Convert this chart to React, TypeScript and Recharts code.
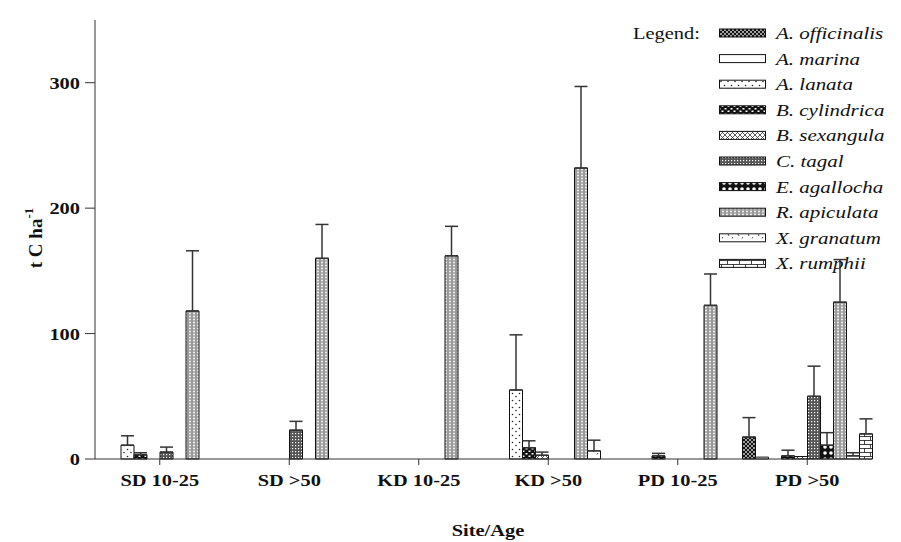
import { BarChart, Bar, XAxis, YAxis, ErrorBar, Label } from 'recharts'

const sites = ['SD 10-25', 'SD >50', 'KD 10-25', 'KD >50', 'PD 10-25', 'PD >50']
const speciesNames = [
  'A. officinalis', 'A. marina', 'A. lanata', 'B. cylindrica', 'B. sexangula',
  'C. tagal', 'E. agallocha', 'R. apiculata', 'X. granatum', 'X. rumphii',
]
const patternIds = ['offic', 'marina', 'lanata', 'cyl', 'sex', 'tagal', 'agal', 'api', 'gran', 'rum']

// carbon stock (t C/ha) per site, one list per species
const officinalis = [0, 0, 0, 0, 0, 17.5]
const marina = [0, 0, 0, 0, 0, 1.5]
const lanata = [11, 0, 0, 55, 0, 0]
const cylindrica = [3.5, 0, 0, 9, 2.5, 2.5]
const sexangula = [0, 0, 0, 3, 0, 2]
const tagal = [5.5, 23, 0, 0, 0, 50]
const agallocha = [0, 0, 0, 0, 0, 11]
const apiculata = [118, 160, 162, 232, 122.5, 125]
const granatum = [0, 0, 0, 6.5, 0, 2.5]
const rumphii = [0, 0, 0, 0, 0, 20]

// upper error (SE) per site
const officinalisErr = [null, null, null, null, null, 15.5]
const marinaErr = [null, null, null, null, null, null]
const lanataErr = [7.5, null, null, 44, null, null]
const cylindricaErr = [1.5, null, null, 5.5, 2, 4.5]
const sexangulaErr = [null, null, null, 2.5, null, null]
const tagalErr = [4, 7, null, null, null, 24]
const agallochaErr = [null, null, null, null, null, 10]
const apiculataErr = [48, 27, 23.5, 65, 25, 34]
const granatumErr = [null, null, null, 8.5, null, 2.5]
const rumphiiErr = [null, null, null, null, null, 12]

const yTicks = [0, 100, 200, 300]

const values = [officinalis, marina, lanata, cylindrica, sexangula, tagal, agallocha, apiculata, granatum, rumphii]
const errors = [officinalisErr, marinaErr, lanataErr, cylindricaErr, sexangulaErr, tagalErr, agallochaErr, apiculataErr, granatumErr, rumphiiErr]

const data = sites.map((site, i) => {
  const row: Record<string, any> = { site }
  values.forEach((v, s) => {
    row['s' + s] = v[i]
    const e = errors[s][i]
    row['e' + s] = e == null ? null : [0, e]
  })
  return row
})

const font = '"Liberation Serif", "Times New Roman", serif'
// the source figure is a little stretched sideways
const stretch = 1.2

function Patterns() {
  return (
    <svg width={0} height={0} style={{ position: 'absolute' }}>
      <defs>
        <pattern id="offic" width={4} height={4} patternUnits="userSpaceOnUse">
          <rect width={4} height={4} fill="#111" />
          <path d="M0,2 L2,0 L4,2 L2,4 Z" fill="none" stroke="#fff" strokeWidth={0.6} />
        </pattern>
        <pattern id="marina" width={4} height={4} patternUnits="userSpaceOnUse">
          <rect width={4} height={4} fill="#fff" />
        </pattern>
        <pattern id="lanata" width={7} height={7} patternUnits="userSpaceOnUse">
          <rect width={7} height={7} fill="#fff" />
          <circle cx={1.5} cy={1.5} r={0.8} fill="#222" />
          <circle cx={5} cy={4.5} r={0.8} fill="#222" />
        </pattern>
        <pattern id="cyl" width={6} height={5} patternUnits="userSpaceOnUse">
          <rect width={6} height={5} fill="#111" />
          <rect x={0.5} y={0.5} width={2} height={1.5} fill="#fff" />
          <rect x={3.5} y={3} width={2} height={1.5} fill="#fff" />
        </pattern>
        <pattern id="sex" width={5} height={5} patternUnits="userSpaceOnUse">
          <rect width={5} height={5} fill="#fff" />
          <path d="M0,0 L5,5 M5,0 L0,5" stroke="#333" strokeWidth={0.8} />
        </pattern>
        <pattern id="tagal" width={3} height={3} patternUnits="userSpaceOnUse">
          <rect width={3} height={3} fill="#555" />
          <rect x={1} y={1} width={1.2} height={1.2} fill="#fff" />
        </pattern>
        <pattern id="agal" width={6} height={6} patternUnits="userSpaceOnUse">
          <rect width={6} height={6} fill="#111" />
          <circle cx={3} cy={3} r={1.8} fill="#fff" />
        </pattern>
        <pattern id="api" width={4} height={3} patternUnits="userSpaceOnUse">
          <rect width={4} height={3} fill="#999" />
          <circle cx={2} cy={1.5} r={0.9} fill="#fff" />
        </pattern>
        <pattern id="gran" width={10} height={8} patternUnits="userSpaceOnUse">
          <rect width={10} height={8} fill="#fff" />
          <path d="M3,2 l1,2 M8,5 l-1,1.5" stroke="#222" strokeWidth={0.8} />
        </pattern>
        <pattern id="rum" width={12} height={8} patternUnits="userSpaceOnUse">
          <rect width={12} height={8} fill="#fff" />
          <path d="M0,0.5 H12 M0,4.5 H12 M0.5,0.5 V4.5 M6.5,4.5 V8.5" stroke="#111" strokeWidth={0.8} fill="none" />
        </pattern>
      </defs>
    </svg>
  )
}

function LegendBox() {
  return (
    <svg width={276} height={285} style={{ position: 'absolute', left: 625, top: 0, fontFamily: font }}>
      <text transform={`translate(8 39) scale(${stretch} 1)`} fontSize={17} fill="#111">Legend:</text>
      {speciesNames.map((name, i) => {
        const cy = 33 + i * 25.6
        return (
          <g key={name}>
            <rect x={94.5} y={cy - 4} width={46} height={8} fill={`url(#${patternIds[i]})`} stroke="#111" strokeWidth={1} />
            <text transform={`translate(151 ${cy + 6}) scale(${stretch} 1)`} fontSize={17.5} fontStyle="italic" fill="#111">
              {name}
            </text>
          </g>
        )
      })}
    </svg>
  )
}

function XTick(props: any) {
  const { x, y, payload } = props
  return (
    <g transform={`translate(${x} ${y})`}>
      <text transform={`scale(${stretch} 1)`} y={17} textAnchor="middle" fontFamily={font} fontWeight="bold" fontSize={17} fill="#111">
        {payload.value}
      </text>
    </g>
  )
}

function YTick(props: any) {
  const { x, y, payload } = props
  return (
    <g transform={`translate(${x} ${y})`}>
      <text transform={`scale(${stretch} 1)`} dy={6} textAnchor="end" fontFamily={font} fontWeight="bold" fontSize={17} fill="#111">
        {payload.value}
      </text>
    </g>
  )
}

function YLabel() {
  return (
    <text x={42} y={238} transform={`rotate(-90 42 238)`} textAnchor="middle" fontFamily={font} fontWeight="bold" fontSize={19} fill="#111">
      t C ha<tspan dy={-9} fontSize={13}>-1</tspan>
    </text>
  )
}

function XLabel() {
  return (
    <g transform={`translate(488 536) scale(${stretch} 1)`}>
      <text textAnchor="middle" fontFamily={font} fontWeight="bold" fontSize={17} fill="#111">
        Site/Age
      </text>
    </g>
  )
}

export default function App() {
  return (
    <div style={{ position: 'absolute', left: 0, top: 0, width: 901, height: 542, background: '#fff' }}>
      <Patterns />
      <BarChart
        width={901}
        height={542}
        data={data}
        margin={{ top: 20, right: 29, bottom: 0, left: 0 }}
        barCategoryGap={0}
        barGap={0}
      >
        <XAxis dataKey="site" height={83} tickSize={6} tickMargin={4} stroke="#333" tick={<XTick />}>
          <Label content={XLabel} />
        </XAxis>
        <YAxis width={95} domain={[0, 350]} ticks={yTicks} tickSize={10} tickMargin={5} stroke="#333" tick={<YTick />}>
          <Label content={YLabel} />
        </YAxis>
        {patternIds.map((id, s) => (
          <Bar
            key={id}
            dataKey={'s' + s}
            name={speciesNames[s]}
            fill={`url(#${id})`}
            stroke="#111"
            strokeWidth={1}
            isAnimationActive={false}
          >
            <ErrorBar dataKey={'e' + s} width={6.5} stroke="#333" strokeWidth={1.5} />
          </Bar>
        ))}
      </BarChart>
      <LegendBox />
    </div>
  )
}
